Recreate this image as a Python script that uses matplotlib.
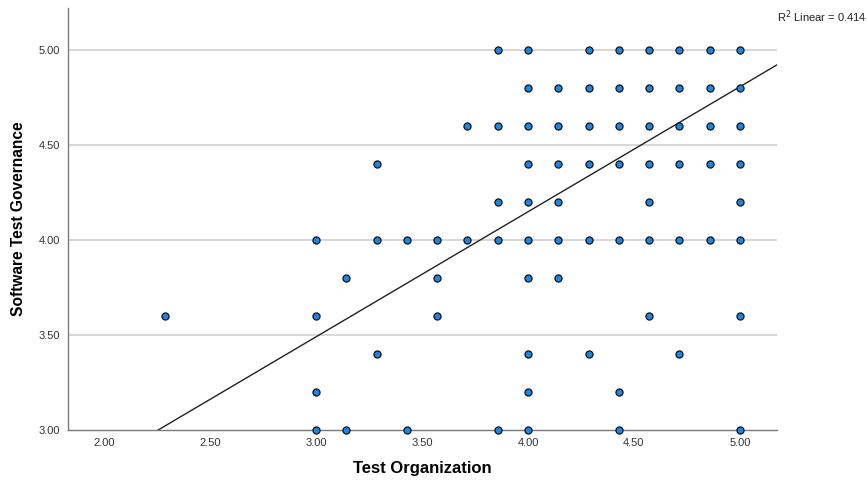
import numpy as np
import matplotlib

matplotlib.use("Agg")
import matplotlib.pyplot as plt

plt.rcParams["font.family"] = ["Liberation Sans", "DejaVu Sans"]

# Test Organization scores come in steps of 1/7, governance in steps of 0.2.
rows_y = [5.0, 4.8, 4.6, 4.4, 4.2, 4.0, 3.8, 3.6, 3.4, 3.2, 3.0]
rows_x7 = [
    [27, 28, 30, 31, 32, 33, 34, 35],
    [28, 29, 30, 31, 32, 33, 34, 35],
    [26, 27, 28, 29, 30, 31, 32, 33, 34, 35],
    [23, 28, 29, 30, 31, 32, 33, 34, 35],
    [27, 28, 29, 32, 35],
    [21, 23, 24, 25, 26, 27, 28, 29, 30, 31, 32, 33, 34, 35],
    [22, 25, 28, 29],
    [16, 21, 25, 32, 35],
    [23, 28, 30, 33],
    [21, 28, 31],
    [21, 22, 24, 27, 28, 31, 35],
]

fit_intercept = 1.516
fit_slope = 0.658
r2_text = "R$^2$ Linear = 0.414"

x_ticks = [2.0, 2.5, 3.0, 3.5, 4.0, 4.5, 5.0]
y_ticks = [3.0, 3.5, 4.0, 4.5, 5.0]

xs = []
ys = []
for yv, row in zip(rows_y, rows_x7):
    for k in row:
        xs.append(k / 7.0)
        ys.append(yv)

fig = plt.figure(figsize=(8.67, 4.83), dpi=100)
ax = fig.add_axes([0.0784, 0.1097, 0.8178, 0.8737])

xlim = (1.83, 5.175)
ax.set_xlim(*xlim)
ax.set_ylim(3.0, 5.22)

for yv in y_ticks[1:]:
    ax.axhline(yv, color="#d4d4d4", lw=1.3, zorder=0)

line_x = np.array(xlim)
ax.plot(line_x, fit_intercept + fit_slope * line_x, color="#222222", lw=1.0, zorder=2)

ax.scatter(xs, ys, s=26, facecolor="#1b87e0", edgecolor="#111111",
           linewidths=0.9, zorder=3, clip_on=False)

ax.set_xticks(x_ticks)
ax.set_xticklabels([f"{v:.2f}" for v in x_ticks])
ax.set_yticks(y_ticks)
ax.set_yticklabels([f"{v:.2f}" for v in y_ticks])
ax.tick_params(length=0, labelsize=8, colors="#333333", pad=6)

for side in ["top", "right"]:
    ax.spines[side].set_visible(False)
for side in ["left", "bottom"]:
    ax.spines[side].set_color("#7a7a7a")
    ax.spines[side].set_linewidth(1.0)

ax.set_xlabel("Test Organization", fontsize=12, fontweight="bold", labelpad=9)
ax.set_ylabel("Software Test Governance", fontsize=11.2, fontweight="bold", labelpad=9)

fig.text(0.896, 0.965, r2_text, fontsize=8, ha="left", va="center", color="#222222")

fig.savefig("out.png", dpi=100)
